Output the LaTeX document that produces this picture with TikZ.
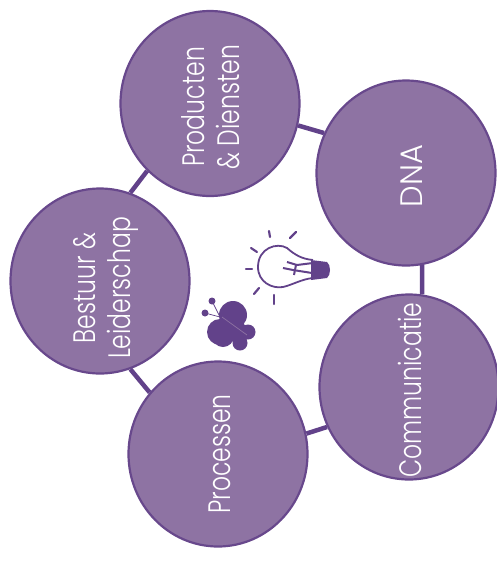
\documentclass[tikz,border=0pt]{standalone}
\usepackage{fontspec}
\setmainfont{Poppins}[UprightFont=* Light]
\usetikzlibrary{backgrounds,shapes.geometric}
\definecolor{fillp}{RGB}{142,115,163}
\definecolor{edgep}{RGB}{104,72,140}
\definecolor{darkp}{RGB}{98,66,138}
\newcommand{\stext}[1]{\scalebox{1}[1.32]{#1}}
\tikzset{
 disc/.style={ellipse,draw=edgep,line width=2.2pt,fill=fillp,minimum width=179pt,minimum height=185pt,inner sep=0pt},
 lbl/.style={rotate=90,text=white,align=center,inner sep=0pt,font=\fontsize{23.5}{35}\selectfont},
 link/.style={draw=darkp,line width=4.5pt},
 ray/.style={draw=darkp,line width=2.2pt,line cap=round}
}
\begin{document}
\begin{tikzpicture}[x=1pt,y=-1pt]
\useasboundingbox (0,0) rectangle (496,563);
\node[disc] (prod) at (210,103.5) {};
\node[disc] (dna) at (406,173) {};
\node[disc] (comm) at (409,387) {};
\node[disc] (proc) at (218,454) {};
\node[disc] (best) at (100,281) {};
\node[lbl] (prodtext) at (211,107) {\stext{Producten}\\\stext{\& Diensten}};
\node[lbl] (dnatext) at (412,176) {\scalebox{1.3}[1.32]{DNA}};
\node[lbl] (commtext) at (410,390) {\stext{Communicatie}};
\node[lbl] (proctext) at (220,454) {\stext{Processen}};
\node[lbl] (besttext) at (106,288) {\stext{Bestuur \&}\\\stext{Leiderschap}};
\begin{scope}[on background layer]
\draw[link] (prod.346) -- (dna.154);
\draw[link] (dna.280) -- (comm.82);
\draw[link] (prod.227) -- (best.71);
\draw[link] (best.289) -- (proc.138);
\draw[link] (proc.13) -- (comm.206);
\end{scope}
% bulb
\draw[darkp,line width=1.8pt] (313,260) .. controls (302,259) and (295,255) .. (287,248) .. controls (277,242) and (258,248) .. (258,267) .. controls (258,282) and (272,289) .. (283,287) .. controls (292,285) and (302,279) .. (313,278);
\draw[darkp,line width=2pt] (287,262) -- (297,265) -- (313,263) (283,268) -- (293,270) -- (312,273) (296,265) -- (294,275);
\fill[darkp] (311,260) -- (327,262) .. controls (331,265) and (331,275) .. (327,278) -- (311,280) -- cycle;
\foreach \a/\b/\c/\d in {269/231/270/237, 296/232/290/238, 251/248/257/252, 246/269/252/269, 259/288/254/294, 274/295/274/304}
  \draw[ray] (\a,\b) -- (\c,\d);
% butterfly
\fill[darkp] (233,315) circle (14) (220,332) circle (13) (223,336) circle (11) (233,328) circle (12) (248,332) circle (7.5) (240,343) circle (7.5) (241,332) circle (8);
\draw[fillp,line width=.7pt] (222,317) -- (247,335);
\draw[darkp,line width=.7pt] (220,317) -- (212,301) (220,317) -- (205,313);
\fill[darkp] (212,301) circle (3.5) (205,313) circle (3.5);
\end{tikzpicture}
\end{document}
